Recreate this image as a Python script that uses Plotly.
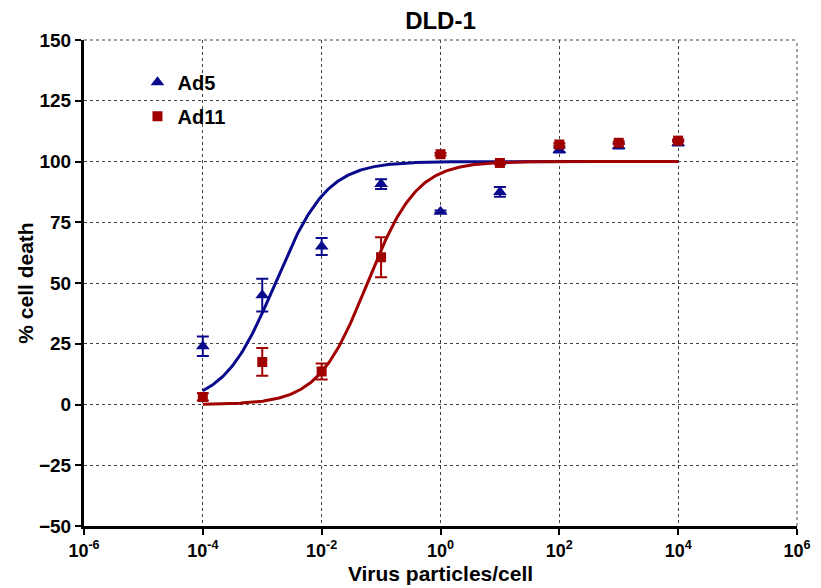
import numpy as np
import plotly.graph_objects as go

# Data (virus particles/cell, % cell death, SEM)
doses = [1e-4, 1e-3, 1e-2, 1e-1, 1e0, 1e1, 1e2, 1e3, 1e4]
ad5_mean = [24.0, 45.0, 65.0, 90.7, 79.3, 87.5, 104.7, 106.4, 107.6]
ad5_err = [4.0, 6.7, 3.5, 2.0, 0.5, 2.0, 1.0, 1.0, 1.0]
ad11_mean = [3.1, 17.5, 13.6, 60.6, 103.0, 99.4, 107.0, 107.7, 108.6]
ad11_err = [1.5, 5.7, 3.3, 8.2, 0.5, 0.5, 0.5, 0.5, 0.5]

# Fitted sigmoidal dose-response parameters (bottom, top, logEC50, hill)
ad5_fit = dict(bottom=0.0, top=100.0, logec50=-2.78, hill=1.0)
ad11_fit = dict(bottom=0.0, top=100.0, logec50=-1.23, hill=1.05)

x_ticks = [1e-6, 1e-4, 1e-2, 1e0, 1e2, 1e4, 1e6]
x_ticktext = ["10<sup>-6</sup>", "10<sup>-4</sup>", "10<sup>-2</sup>", "10<sup>0</sup>",
              "10<sup>2</sup>", "10<sup>4</sup>", "10<sup>6</sup>"]
y_ticks = [-50, -25, 0, 25, 50, 75, 100, 125, 150]

blue = "#0A0A8C"
red = "#A00000"
grid_color = "#444"


def sigmoid(logx, p):
    return p["bottom"] + (p["top"] - p["bottom"]) / (1 + 10 ** ((p["logec50"] - logx) * p["hill"]))


logx = np.linspace(np.log10(doses[0]), np.log10(doses[-1]), 400)
xs = 10 ** logx

fig = go.Figure()
fig.add_trace(go.Scatter(x=xs, y=sigmoid(logx, ad5_fit), mode="lines",
                         line=dict(color=blue, width=3), showlegend=False, hoverinfo="skip"))
fig.add_trace(go.Scatter(x=xs, y=sigmoid(logx, ad11_fit), mode="lines",
                         line=dict(color=red, width=3), showlegend=False, hoverinfo="skip"))
fig.add_trace(go.Scatter(x=doses, y=ad5_mean, mode="markers", name="<b>Ad5</b>", legendgroup="a",
                         marker=dict(symbol="triangle-up", size=12, color=blue),
                         error_y=dict(type="data", array=ad5_err, color=blue, thickness=2, width=6)))
fig.add_trace(go.Scatter(x=doses, y=ad11_mean, mode="markers", name="<b>Ad11</b>", legendgroup="b",
                         marker=dict(symbol="square", size=10, color=red),
                         error_y=dict(type="data", array=ad11_err, color=red, thickness=2, width=6)))

font_family = "Liberation Sans, Arial, sans-serif"

# dotted frame lines at the top and right edges of the plot area (as in the reference grid)
fig.add_shape(type="line", xref="paper", yref="paper", x0=0, x1=1, y0=1, y1=1,
              line=dict(color=grid_color, width=1, dash="dot"), layer="below")
fig.add_shape(type="line", xref="paper", yref="paper", x0=1, x1=1, y0=0, y1=1,
              line=dict(color=grid_color, width=1, dash="dot"), layer="below")

fig.update_layout(
    width=821, height=588,
    margin=dict(l=84, r=24, t=40, b=62),
    paper_bgcolor="white", plot_bgcolor="white",
    font=dict(family=font_family, color="black"),
    title=dict(text="<b>DLD-1</b>", x=0.5365, xanchor="center", y=0.965, yanchor="middle",
               font=dict(size=24, family=font_family, color="black")),
    xaxis=dict(type="log", range=[-6, 6], tickvals=x_ticks, ticktext=x_ticktext,
               showgrid=True, gridcolor=grid_color, griddash="dot", gridwidth=1,
               showline=True, linecolor="black", linewidth=3,
               ticks="outside", ticklen=6, tickwidth=2, tickcolor="black",
               tickfont=dict(size=18, weight="bold", family=font_family),
               title=dict(text="<b>Virus particles/cell</b>", font=dict(size=21), standoff=7),
               zeroline=False, automargin=False),
    yaxis=dict(range=[-50, 150], tickvals=y_ticks,
               showgrid=True, gridcolor=grid_color, griddash="dot", gridwidth=1,
               showline=True, linecolor="black", linewidth=3,
               ticks="outside", ticklen=6, tickwidth=2, tickcolor="black",
               tickfont=dict(size=19, weight="bold", family=font_family),
               title=dict(text="<b>% cell death</b>", font=dict(size=21), standoff=0),
               zeroline=False, automargin=False),
    legend=dict(x=0.075, y=0.953, xanchor="left", yanchor="top",
                bgcolor="rgba(0,0,0,0)", font=dict(size=20, weight="bold"),
                tracegroupgap=5),
)

fig.write_html("out.html")
